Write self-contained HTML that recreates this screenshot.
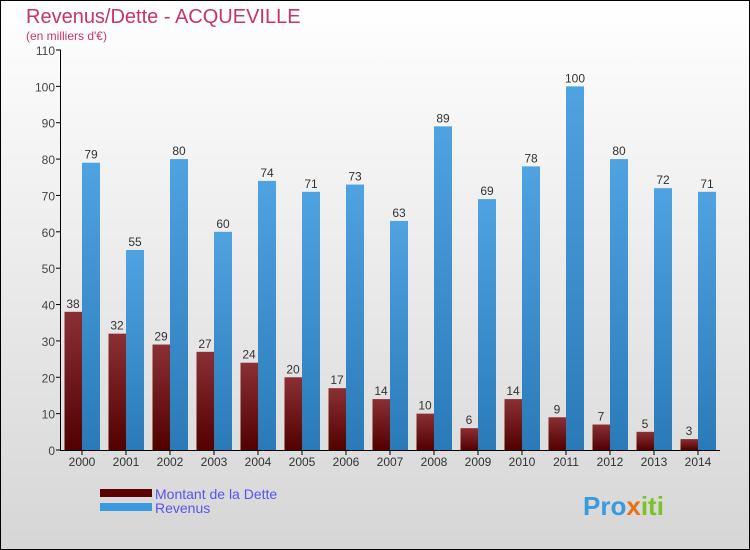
<!DOCTYPE html>
<html><head><meta charset="utf-8"><style>
body{margin:0}
#c{width:750px;height:550px;position:relative;overflow:hidden;font-family:"Liberation Sans",sans-serif}
</style></head><body>
<div id="c">
<svg id="s" width="750" height="550" xmlns="http://www.w3.org/2000/svg">
<defs>
<linearGradient id="bg" x1="0" y1="0" x2="0" y2="1"><stop offset="0" stop-color="#ffffff"/><stop offset="1" stop-color="#d6d6d6"/></linearGradient>
<linearGradient id="gd" x1="0" y1="0" x2="0" y2="1"><stop offset="0" stop-color="#8a3034"/><stop offset="1" stop-color="#520000"/></linearGradient>
<linearGradient id="gr" x1="0" y1="0" x2="0" y2="1"><stop offset="0" stop-color="#4fa3e0"/><stop offset="1" stop-color="#2a7ab8"/></linearGradient>
</defs>
<rect x="0.5" y="0.5" width="749" height="549" fill="url(#bg)" stroke="#000"/>
<text x="26" y="23" font-size="20" fill="#c8336b">Revenus/Dette - ACQUEVILLE</text>
<text x="26" y="40" font-size="12" fill="#c8336b">(en milliers d'€)</text>
<g id="plot"></g>
<rect x="100" y="489" width="52" height="8" fill="#5c0000"/>
<text x="155" y="499" font-size="14" fill="#5555ee">Montant de la Dette</text>
<rect x="100" y="503" width="52" height="8" fill="#3a9ae0"/>
<text x="155" y="513" font-size="14" fill="#5555ee">Revenus</text>
<text x="583" y="515" font-size="26" font-weight="bold" fill="#3a9ae0">Pro<tspan fill="#e8701a">x</tspan><tspan fill="#7cc02a">iti</tspan></text>
</svg>
</div>
<script>
const years=["2000","2001","2002","2003","2004","2005","2006","2007","2008","2009","2010","2011","2012","2013","2014"];
const dette=[38,32,29,27,24,20,17,14,10,6,14,9,7,5,3];
const revenus=[79,55,80,60,74,71,73,63,89,69,78,100,80,72,71];
const ticks=[0,10,20,30,40,50,60,70,80,90,100,110];
const NS="http://www.w3.org/2000/svg";
const g=document.getElementById('plot');
const y=v=>450-v*400/110;
const xc=i=>82+i*44;
function mk(t,a){const e=document.createElementNS(NS,t);for(const k in a)e.setAttribute(k,a[k]);g.appendChild(e);return e;}
ticks.forEach(t=>{
 const l=mk('line',{x1:56,x2:61,y1:y(t),y2:y(t),stroke:'#000'});
 
 
 const tx=mk('text',{x:55,y:y(t)+5,'font-size':12,fill:'#444','text-anchor':'end'});
 tx.textContent=t;
 
 
});
years.forEach((yr,i)=>{
 const c=xc(i);
 const b1=mk('rect',{x:c-17.5,y:y(dette[i]),width:17.5,height:450-y(dette[i]),fill:'url(#gd)'});
 
 
 const b2=mk('rect',{x:c,y:y(revenus[i]),width:18,height:450-y(revenus[i]),fill:'url(#gr)'});
 
 
 const t1=mk('text',{x:c-9,y:y(dette[i])-4,'font-size':12,fill:'#333','text-anchor':'middle'});
 t1.textContent=dette[i];
 
 
 const t2=mk('text',{x:c+9,y:y(revenus[i])-4,'font-size':12,fill:'#333','text-anchor':'middle'});
 t2.textContent=revenus[i];
 
 
 const tk=mk('line',{x1:c,x2:c,y1:450,y2:455,stroke:'#000'});
 
 
 const xl=mk('text',{x:c,y:466,'font-size':12,fill:'#333','text-anchor':'middle'});
 xl.textContent=yr;
 
 
});
const ya=mk('line',{x1:60.5,x2:60.5,y1:50,y2:450,stroke:'#000'});


const xa=mk('line',{x1:60,x2:720,y1:450.5,y2:450.5,stroke:'#000'});


</script>
</body></html>
